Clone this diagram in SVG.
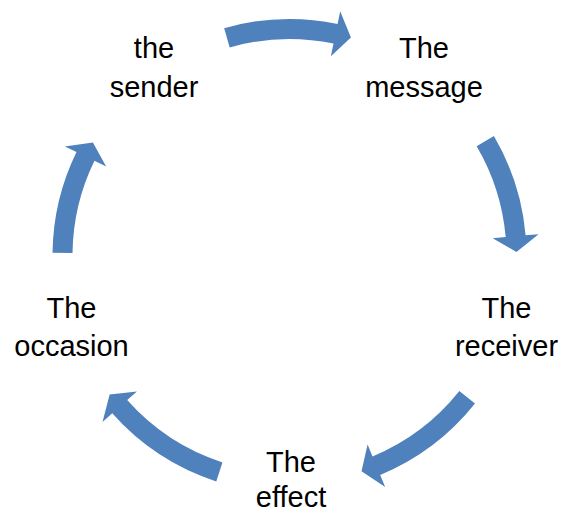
<svg xmlns="http://www.w3.org/2000/svg" width="564" height="514" viewBox="0 0 564 514">
  <style>
    .arrow { fill: #4F81BD; stroke: none; }
    .label { font-family: "Liberation Sans", Arial, sans-serif; font-size: 29px; fill: #000000; text-anchor: middle; }
  </style>
  <rect x="0" y="0" width="564" height="514" fill="#FFFFFF"/>

  <!-- Curved arrows along a circle centred at (289.5, 256), r = 227 -->
  <g id="connectors">
    <path class="arrow" d="M224.17,28.18 A237,237 0 0 1 337.56,23.93 L340.20,11.19 L350.93,37.47 L330.87,56.24 L333.51,43.51 A217,217 0 0 0 229.69,47.41 Z"/>
    <path class="arrow" d="M493.91,136.07 A237,237 0 0 1 525.60,235.34 L538.55,234.21 L516.47,252.04 L492.72,238.22 L505.67,237.09 A217,217 0 0 0 476.66,146.19 Z"/>
    <path class="arrow" d="M474.98,403.53 A237,237 0 0 1 380.20,474.96 L385.17,486.97 L361.53,471.27 L367.57,444.47 L372.54,456.48 A217,217 0 0 0 459.33,391.08 Z"/>
    <path class="arrow" d="M216.26,481.40 A237,237 0 0 1 112.23,413.30 L102.50,421.93 L109.65,394.50 L136.91,391.40 L127.19,400.03 A217,217 0 0 0 222.44,462.38 Z"/>
    <path class="arrow" d="M52.52,252.69 A237,237 0 0 1 76.49,152.11 L64.80,146.41 L92.91,142.50 L106.15,166.57 L94.46,160.87 A217,217 0 0 0 72.52,252.97 Z"/>
  </g>

  <g id="node-sender">
    <text class="label" x="154" y="58">the</text>
    <text class="label" x="154" y="97">sender</text>
  </g>
  <g id="node-message">
    <text class="label" x="424" y="58">The</text>
    <text class="label" x="424" y="97">message</text>
  </g>
  <g id="node-receiver">
    <text class="label" x="506.5" y="318">The</text>
    <text class="label" x="506.5" y="356">receiver</text>
  </g>
  <g id="node-effect">
    <text class="label" x="291" y="472">The</text>
    <text class="label" x="291" y="507">effect</text>
  </g>
  <g id="node-occasion">
    <text class="label" x="71.5" y="318">The</text>
    <text class="label" x="71.5" y="356">occasion</text>
  </g>
</svg>
